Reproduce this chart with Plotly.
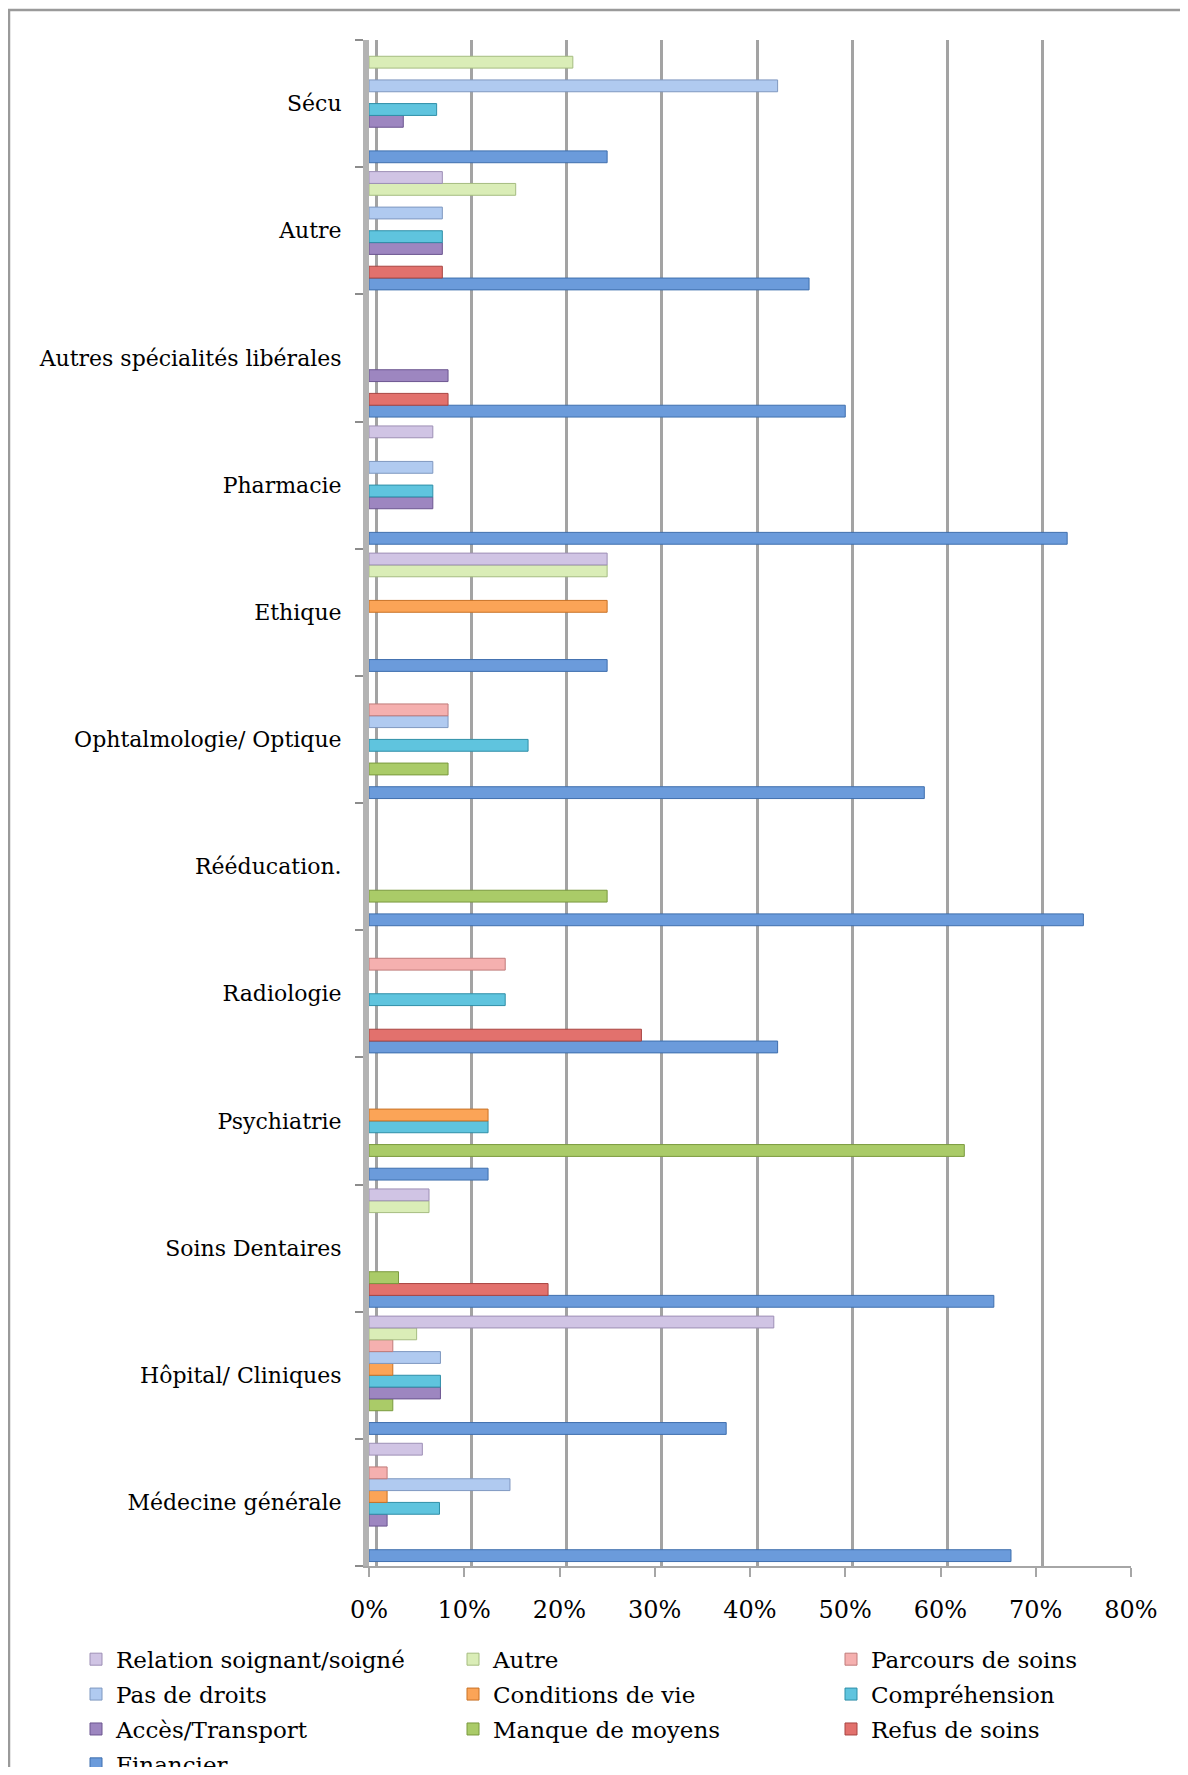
import plotly.graph_objects as go

# categories from bottom to top (plotly category axis starts at the bottom)
categories = ["Médecine générale", "Hôpital/ Cliniques", "Soins Dentaires", "Psychiatrie",
              "Radiologie", "Rééducation.", "Ophtalmologie/ Optique", "Ethique",
              "Pharmacie", "Autres spécialités libérales", "Autre", "Sécu"]

# values in %
financier = [67.4, 37.5, 65.6, 12.5, 42.9, 75.0, 58.3, 25.0, 73.3, 50.0, 46.2, 25.0]
refus_de_soins = [None, None, 18.8, None, 28.6, None, None, None, None, 8.3, 7.7, None]
manque_de_moyens = [None, 2.5, 3.1, 62.5, None, 25.0, 8.3, None, None, None, None, None]
acces_transport = [1.9, 7.5, None, None, None, None, None, None, 6.7, 8.3, 7.7, 3.6]
comprehension = [7.4, 7.5, None, 12.5, 14.3, None, 16.7, None, 6.7, None, 7.7, 7.1]
conditions_de_vie = [1.9, 2.5, None, 12.5, None, None, None, 25.0, None, None, None, None]
pas_de_droits = [14.8, 7.5, None, None, None, None, 8.3, None, 6.7, None, 7.7, 42.9]
parcours_de_soins = [1.9, 2.5, None, None, 14.3, None, 8.3, None, None, None, None, None]
autre = [None, 5.0, 6.3, None, None, None, None, 25.0, None, None, 15.4, 21.4]
relation = [5.6, 42.5, 6.3, None, None, None, None, 25.0, 6.7, None, 7.7, None]

x_ticks = [0, 10, 20, 30, 40, 50, 60, 70, 80]
x_tick_labels = ["0%", "10%", "20%", "30%", "40%", "50%", "60%", "70%", "80%"]

# legend columns, top to bottom
legend_cols = {
    "legend": ["Relation soignant/soigné", "Pas de droits", "Accès/Transport", "Financier"],
    "legend2": ["Autre", "Conditions de vie", "Manque de moyens"],
    "legend3": ["Parcours de soins", "Compréhension", "Refus de soins"],
}

# (name, values, fill, outline) - first one drawn at the bottom of each group
series = [
    ("Financier", financier, "#6B9BDB", "#3F6FAE"),
    ("Refus de soins", refus_de_soins, "#E2716D", "#A84542"),
    ("Manque de moyens", manque_de_moyens, "#AACB68", "#7A9A3E"),
    ("Accès/Transport", acces_transport, "#9D86C0", "#6C5690"),
    ("Compréhension", comprehension, "#5FC4DE", "#2F8FA8"),
    ("Conditions de vie", conditions_de_vie, "#FBA457", "#C97226"),
    ("Pas de droits", pas_de_droits, "#B0CAF0", "#7F98C0"),
    ("Parcours de soins", parcours_de_soins, "#F5B0AF", "#C07B7A"),
    ("Autre", autre, "#DAEDB7", "#A5BC80"),
    ("Relation soignant/soigné", relation, "#D0C4E4", "#9D8FB5"),
]

FONT = "DejaVu Serif"

fig = go.Figure()
for name, vals, fill, edge in series:
    leg = [k for k, names in legend_cols.items() if name in names][0]
    fig.add_trace(go.Bar(
        y=categories, x=vals, name=name, orientation="h",
        marker=dict(color=fill, line=dict(color=edge, width=1)),
        legend=leg, legendgroup=name,
        legendrank=legend_cols[leg].index(name) + 1,
    ))

# back-wall gridlines, drawn a few px to the right like the 3D original
fig.add_trace(go.Bar(y=categories, x=[None] * len(categories), xaxis="x2",
                     showlegend=False, hoverinfo="skip"))

# the page adds an 8px body margin, so the figure is 8px smaller / shifted
W, H = 1180, 1759
plot_l, plot_r, plot_t = 361, 57, 32
plot_w = W - plot_l - plot_r
plot_h = 1526
plot_b = H - plot_t - plot_h
shift = 7 * 80.0 / plot_w


def px_x(px):
    return (px - plot_l) / plot_w


leg_common = dict(orientation="v", xanchor="left", yanchor="top", y=-0.047,
                  traceorder="grouped", tracegroupgap=2,
                  font=dict(family=FONT, size=23, color="#000000"),
                  bgcolor="rgba(0,0,0,0)", itemwidth=30)

fig.update_layout(
    width=W, height=H,
    margin=dict(l=plot_l, r=plot_r, t=plot_t, b=plot_b, autoexpand=False),
    paper_bgcolor="white", plot_bgcolor="white",
    barmode="group", bargap=0.07, bargroupgap=0,
    font=dict(family=FONT, size=22, color="#000000"),
    xaxis=dict(range=[0, 80], tickvals=x_ticks, ticktext=x_tick_labels,
               showgrid=False, zeroline=False,
               showline=True, linecolor="#A6A6A6", linewidth=2,
               ticks="outside", ticklen=9, tickwidth=2, tickcolor="#A6A6A6",
               tickfont=dict(family=FONT, size=24, color="#000000"),
               ticklabelstandoff=12),
    xaxis2=dict(range=[-shift, 80 - shift], overlaying="x", anchor="y",
                tickvals=x_ticks, showticklabels=False,
                showgrid=True, gridcolor="#A3A3A3", gridwidth=2.5,
                zeroline=False, showline=False),
    yaxis=dict(type="category", categoryorder="array", categoryarray=categories,
               range=[-0.5, len(categories) - 0.5],
               tickson="boundaries", ticks="outside", ticklen=8, tickwidth=2,
               tickcolor="#8C8C8C", showgrid=False,
               showline=True, linecolor="#B3B3B3", linewidth=6,
               tickfont=dict(family=FONT, size=22, color="#000000"),
               ticklabelstandoff=17),
    legend=dict(x=px_x(68), **leg_common),
    legend2=dict(x=px_x(445), **leg_common),
    legend3=dict(x=px_x(823), **leg_common),
    shapes=[dict(type="rect", xref="paper", yref="paper",
                 x0=px_x(1), x1=1.3,
                 y0=-0.3, y1=1 + (plot_t - 2) / plot_h,
                 line=dict(color="#9A9A9A", width=2.5), layer="below")],
)

fig.write_html("out.html")
